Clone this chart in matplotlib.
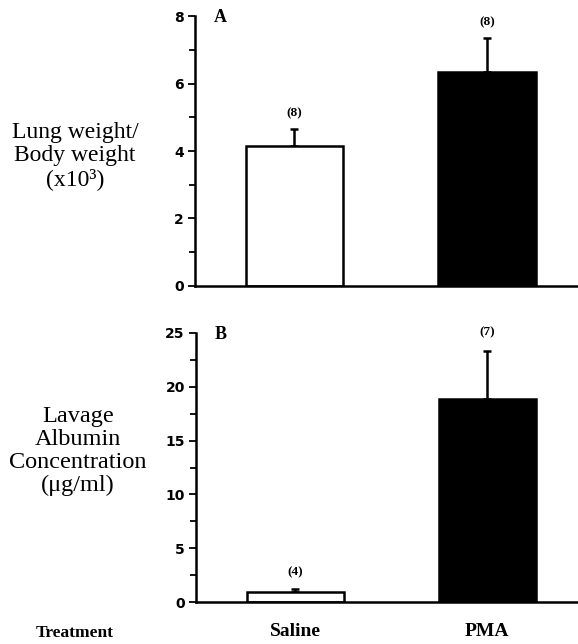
import matplotlib
matplotlib.use("Agg")
import matplotlib.pyplot as plt
from matplotlib.transforms import blended_transform_factory

categories = ["Saline", "PMA"]
lung_ratio = [4.15, 6.35]
lung_err = [0.5, 1.0]
lung_n = ["(8)", "(8)"]
albumin = [0.95, 18.9]
albumin_err = [0.3, 4.4]
albumin_n = ["(4)", "(7)"]
colors = ["white", "black"]

serif = "Liberation Serif"
fig = plt.figure(figsize=(5.78, 6.44), dpi=100)

def setup(ax, ymax, major, minor):
    ax.set_ylim(0, ymax)
    ax.set_xlim(-0.517, 1.473)
    ax.spines["top"].set_visible(False)
    ax.spines["right"].set_visible(False)
    for s in ("left", "bottom"):
        ax.spines[s].set_linewidth(1.8)
    ax.set_yticks(major)
    ax.set_yticks(minor, minor=True)
    ax.tick_params(axis="y", which="major", direction="out", length=5, width=1.3,
                   labelsize=10, pad=3)
    ax.tick_params(axis="y", which="minor", direction="out", length=4, width=1.3)
    for t in ax.get_yticklabels():
        t.set_fontweight("bold")
    ax.set_xticks([])

x = list(range(len(categories)))

axA = fig.add_axes([0.337, 0.556, 0.663, 0.419])
axA.bar(x, lung_ratio, width=0.505, color=colors, edgecolor="black", linewidth=1.8,
        zorder=2)
axA.errorbar(x, lung_ratio, yerr=[[0, 0], lung_err], fmt="none", ecolor="black",
             elinewidth=1.8, capsize=3, capthick=1.8, zorder=1)
setup(axA, 8, [0, 2, 4, 6, 8], [1, 3, 5, 7])
for xi, v, e, n in zip(x, lung_ratio, lung_err, lung_n):
    axA.text(xi, v + e + 0.3, n, ha="center", va="bottom", fontsize=9.5,
             fontweight="bold", family=serif)
axA.text(0.05, 0.995, "A", transform=axA.transAxes, ha="left", va="center",
         fontsize=13, fontweight="bold", family=serif)

axB = fig.add_axes([0.339, 0.065, 0.661, 0.418])
axB.bar(x, albumin, width=0.505, color=colors, edgecolor="black", linewidth=1.8,
        zorder=2)
axB.errorbar(x, albumin, yerr=[[0, 0], albumin_err], fmt="none", ecolor="black",
             elinewidth=1.8, capsize=3, capthick=1.8, zorder=1)
setup(axB, 25, [0, 5, 10, 15, 20, 25], [2.5, 7.5, 12.5, 17.5, 22.5])
for xi, v, e, n in zip(x, albumin, albumin_err, albumin_n):
    axB.text(xi, v + e + 1.0 if xi == 0 else 24.5, n, ha="center", va="bottom",
             fontsize=9.5, fontweight="bold", family=serif)
axB.text(0.05, 0.995, "B", transform=axB.transAxes, ha="left", va="center",
         fontsize=13, fontweight="bold", family=serif)

cat_tr = blended_transform_factory(axB.transData, fig.transFigure)
for xi, c in zip(x, categories):
    axB.text(xi, 1 - 632 / 644, c, transform=cat_tr, ha="center", va="center",
             fontsize=14, fontweight="bold", family=serif)
fig.text(75 / 578, 1 - 633 / 644, "Treatment", ha="center", va="center",
         fontsize=12.5, fontweight="bold", family=serif)

fig.text(75 / 578, 1 - 156 / 644, "Lung weight/\nBody weight\n(x10\u00b3)",
         ha="center", va="center", fontsize=17, family=serif, linespacing=1.1)
fig.text(78 / 578, 1 - 451 / 644, "Lavage\nAlbumin\nConcentration\n(\u03bcg/ml)",
         ha="center", va="center", fontsize=17.5, family=serif, linespacing=1.1)

fig.savefig("out.png", dpi=100)
